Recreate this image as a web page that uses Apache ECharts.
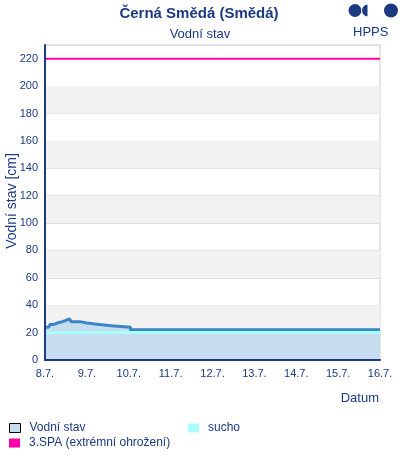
<!DOCTYPE html>
<html><head><meta charset="utf-8">
<script src="https://cdn.jsdelivr.net/npm/echarts@6/dist/echarts.min.js"></script>
<style>html,body{margin:0;padding:0;background:#fff}#c{width:400px;height:460px}</style>
</head><body><div id="c"></div>
<script>
// Data (hours from 8.7. 00:00, water level in cm; stepped breakpoints)
var dayLabels = ['8.7.','9.7.','10.7.','11.7.','12.7.','13.7.','14.7.','15.7.','16.7.'];
var levelHours = [0,2,3,5,7,10,12,14,15,20,24,31,38,49,82,83,109,109.5,192];
var levelValues = [24,25,26,27,28,29,30,29,28,27,26,25,24,22,21,22,23,22,22];
var suchoValue = 20;
var spa3Value = 220;
var yTicks = [0,20,40,60,80,100,120,140,160,180,200,220];

var navy = '#1c3a82';
var font = 'Liberation Sans, Arial, sans-serif';
var totalHours = (dayLabels.length - 1) * 24;
var levelData = levelHours.map(function(h,i){return [h, levelValues[i]];});
var bands = [];
for (var i = 1; i < yTicks.length - 1; i += 2) bands.push([{yAxis: yTicks[i]}, {yAxis: yTicks[i+1]}]);

var chart = echarts.init(document.getElementById('c'), null, {renderer:'canvas'});
chart.setOption({
  animation:false,
  textStyle:{fontFamily:font},
  title:[
    {text:'Černá Smědá (Smědá)', left:194, top:1, textAlign:'center',
     textStyle:{fontSize:15, fontWeight:'bold', color:navy}},
    {text:'Vodní stav', left:195, top:23, textAlign:'center',
     textStyle:{fontSize:13, fontWeight:'normal', color:navy}}
  ],
  grid:{left:45, right:20, top:45, bottom:100, containLabel:false, outerBoundsMode:'none',
        show:true, borderColor:'#cccccc', borderWidth:1},
  xAxis:[
    {type:'value', min:0, max:totalHours, interval:24,
     axisLine:{show:false}, axisTick:{show:false}, splitLine:{show:false},
     axisLabel:{color:navy, fontSize:11, margin:8,
       formatter:function(v){return dayLabels[Math.round(v/24)] || '';}}},
    {type:'value', min:0, max:totalHours, position:'bottom', offset:0, z:10,
     axisLine:{show:true, onZero:false, lineStyle:{color:navy, width:2}},
     axisTick:{show:false}, splitLine:{show:false}, axisLabel:{show:false}}
  ],
  yAxis:[
    {type:'value', min:0, max:230, interval:20,
     axisLine:{show:false}, axisTick:{show:false},
     splitLine:{show:true, lineStyle:{color:'#dddddd', width:1}},
     axisLabel:{color:navy, fontSize:11, margin:7,
       formatter:function(v){return yTicks.indexOf(v) >= 0 ? String(v) : '';}}},
    {type:'value', min:0, max:230, position:'left', offset:0, z:10,
     axisLine:{show:true, onZero:false, lineStyle:{color:navy, width:2}},
     axisTick:{show:false}, splitLine:{show:false}, axisLabel:{show:false}}
  ],
  legend:[
    {left:4, top:417, itemWidth:11, itemHeight:9, textStyle:{color:navy, fontSize:12, padding:[0,0,0,4]},
     data:[{name:'Vodní stav', icon:'rect', itemStyle:{color:'#c6ddf0', borderColor:'#000', borderWidth:1}}]},
    {left:183, top:417, itemWidth:11, itemHeight:9, textStyle:{color:navy, fontSize:12, padding:[0,0,0,4]},
     data:[{name:'sucho', icon:'rect', itemStyle:{color:'#aaffff'}}]},
    {left:4, top:432, itemWidth:11, itemHeight:9, textStyle:{color:navy, fontSize:12, padding:[0,0,0,4]},
     data:[{name:'3.SPA (extrémní ohrožení)', icon:'rect', itemStyle:{color:'#ff00aa'}}]}
  ],
  series:[
    {name:'3.SPA (extrémní ohrožení)', type:'line', z:1, symbol:'none',
     data:[[0,spa3Value],[totalHours,spa3Value]],
     lineStyle:{color:'#ff00aa', width:2}, itemStyle:{color:'#ff00aa'},
     markArea:{silent:true, itemStyle:{color:'#f2f2f2'}, data:bands}},
    {name:'Vodní stav', type:'line', z:3, symbol:'none', step:'end',
     data:levelData,
     lineStyle:{color:'#3a86c6', width:3}, itemStyle:{color:'#3a86c6'},
     areaStyle:{color:'#c6ddf0', opacity:1}},
    {name:'sucho', type:'line', z:4, symbol:'none',
     data:[[0,suchoValue],[totalHours,suchoValue]],
     lineStyle:{color:'#aaffff', width:3}, itemStyle:{color:'#aaffff'}}
  ],
  graphic:[
    {type:'circle', shape:{cx:355, cy:10.5, r:6.5}, style:{fill:navy}},
    {type:'sector', shape:{cx:368, cy:10.5, r:6.5, startAngle:Math.PI/2, endAngle:Math.PI*3/2},
     style:{fill:navy, stroke:'#fff', lineWidth:1}},
    {type:'circle', shape:{cx:391, cy:10.5, r:7}, style:{fill:navy}},
    {type:'text', left:353, top:26, style:{text:'HPPS', fill:navy, fontSize:13, fontFamily:font}},
    {type:'text', right:21, top:392, style:{text:'Datum', fill:navy, fontSize:13, fontFamily:font}},
    {type:'text', x:12, y:201, rotation:Math.PI/2,
     style:{text:'Vodní stav [cm]', fill:navy, fontSize:14, fontFamily:font, align:'center', verticalAlign:'middle'}}
  ]
});
</script></body></html>
